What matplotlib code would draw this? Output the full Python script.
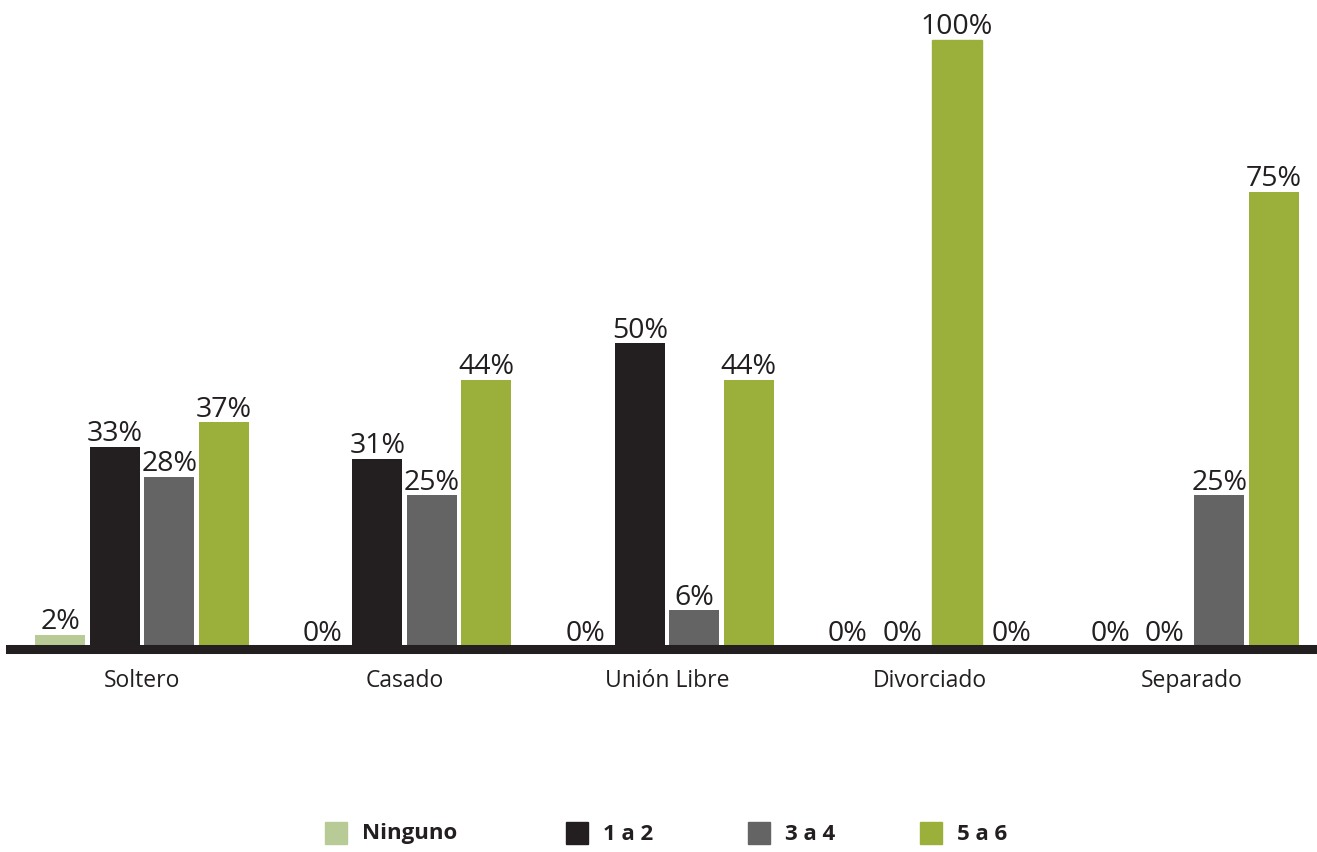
import numpy as np
import matplotlib.pyplot as plt
from matplotlib.patches import Rectangle

categories = ["Soltero", "Casado", "Unión Libre", "Divorciado", "Separado"]
series = ["Ninguno", "1 a 2", "3 a 4", "5 a 6"]
ninguno = [2, 0, 0, 0, 0]
uno_dos = [33, 31, 50, 0, 0]
tres_cuatro = [28, 25, 6, 100, 25]
cinco_seis = [37, 44, 44, 0, 75]
values = [ninguno, uno_dos, tres_cuatro, cinco_seis]
colors = ["#b8cb96", "#231f20", "#646464", "#9ab03b"]

plt.rcParams['font.family'] = ['Open Sans', 'DejaVu Sans']

fig = plt.figure(figsize=(13.17, 8.52), dpi=100)
ax = fig.add_axes([0, 0, 1, 1])
ax.set_xlim(-0.541, 4.476)
ax.set_ylim(-33.8, 106.6)
ax.axis('off')

x = np.arange(len(categories))
width = 0.19
step = 0.2076
offsets = (np.arange(len(series)) - 1.5) * step

all_bars = []
for vals, off, col, name in zip(values, offsets, colors, series):
    bars = ax.bar(x + off, vals, width=width, color=col, label=name, zorder=2)
    all_bars.append(bars)
    for b, v in zip(bars, vals):
        ax.annotate(f"{v}%", (b.get_x() + b.get_width() / 2, v),
                    xytext=(0, -1), textcoords='offset points',
                    ha='center', va='bottom', fontsize=20.5, color='#231f20')

# in the original the Divorciado 100% bar is drawn in green
all_bars[2][3].set_color(colors[3])

# thick baseline
ax.axhline(-0.4, xmin=10 / 1317, xmax=1, color='#231f20', lw=6.5, zorder=3)

for xi, cat in zip(x, categories):
    ax.text(xi, -5.7, cat, ha='center', va='center', fontsize=16.5, color='#231f20')

# legend
leg_x = [325, 566, 748, 920]
for lx, col, name in zip(leg_x, colors, series):
    fig.patches.append(Rectangle((lx / 1317, 1 - 844 / 852), 22 / 1317, 22 / 852,
                                 transform=fig.transFigure, color=col))
    fig.text((lx + 37) / 1317, 1 - 834 / 852, name, ha='left', va='center',
             fontsize=16, fontweight='bold', color='#231f20')

fig.savefig('out.png', dpi=100)
